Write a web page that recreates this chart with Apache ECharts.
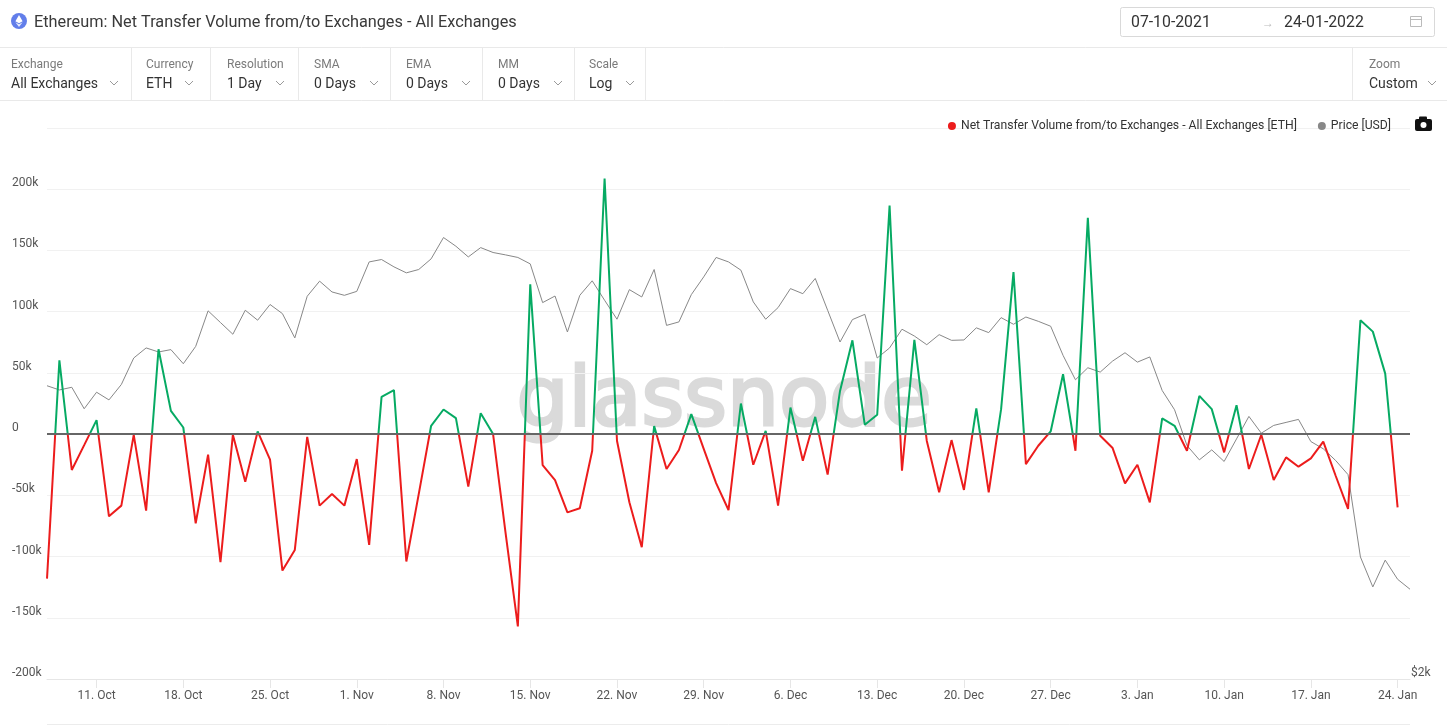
<!DOCTYPE html>
<html>
<head>
<meta charset="utf-8">
<title>Ethereum: Net Transfer Volume from/to Exchanges - All Exchanges</title>
<script src="https://cdn.jsdelivr.net/npm/echarts@6.0.0/dist/echarts.min.js"></script>
<style>
  html, body { margin: 0; padding: 0; background: #fff; }
  #chart { width: 1447px; height: 725px; }
</style>
</head>
<body>
<div id="chart"></div>
<script>
// days shown: 07 Oct 2021 .. 25 Jan 2022 (price runs one day longer than the flow)
const startDay = '2021-10-07';
const dayCount = 111;
const monthNames = ['Jan', 'Feb', 'Mar', 'Apr', 'May', 'Jun', 'Jul', 'Aug', 'Sep', 'Oct', 'Nov', 'Dec'];

// net transfer volume, ETH per day
const netFlow = [
  -118000, 60300, -29300, -9000, 11400, -67100, -58400, -600, -62500, 69300,
  19000, 5400, -72800, -16800, -104600, -600, -38900, 2200, -20900, -111400,
  -94600, -2200, -58400, -48900, -58400, -20400, -90500, 30400, 35900, -104000,
  -49000, 6800, 20100, 13000, -42900, 17100, 0, -80000, -157000, 122300,
  -25300, -37500, -63900, -60600, -13600, 208700, -5400, -55700, -92400, 6500,
  -28500, -13000, 16300, -12000, -40000, -62000, 25000, -25000, 2700, -58400,
  21700, -21700, 14100, -33100, 35300, 76600, 7600, 15800, 186700, -29900,
  76900, -5400, -47500, -4900, -45600, 20900, -47500, 20400, 132300, -24500,
  -9500, 2200, 48900, -13600, 176600, -1400, -11400, -40200, -25000, -55700,
  12800, 6800, -13600, 31200, 20400, -14900, 23600, -28500, -500, -37500,
  -19000, -26600, -19800, -6200, -34000, -61100, 92900, 83700, 49400, -59800
];

// ETH price, USD
const price = [
  3589, 3559, 3578, 3428, 3543, 3489, 3598, 3793, 3870, 3839,
  3857, 3750, 3882, 4167, 4071, 3977, 4172, 4090, 4220, 4144,
  3948, 4290, 4421, 4327, 4298, 4332, 4594, 4616, 4549, 4495,
  4525, 4622, 4823, 4740, 4640, 4727, 4681, 4659, 4635, 4576,
  4236, 4292, 3995, 4298, 4424, 4256, 4098, 4347, 4284, 4525,
  4048, 4076, 4304, 4459, 4635, 4594, 4519, 4242, 4098, 4194,
  4356, 4312, 4445, 4172, 3916, 4095, 4138, 3793, 3870, 4017,
  3963, 3895, 3974, 3929, 3932, 4028, 3990, 4111, 4057, 4116,
  4081, 4041, 3813, 3632, 3720, 3688, 3770, 3833, 3762, 3801,
  3555, 3421, 3186, 3096, 3158, 3086, 3228, 3376, 3265, 3316,
  3336, 3356, 3211, 3165, 3092, 3006, 2551, 2403, 2535, 2440,
  2392
];

const controlLabels = ['Exchange', 'Currency', 'Resolution', 'SMA', 'EMA', 'MM', 'Scale'];
const controlValues = ['All Exchanges', 'ETH', '1 Day', '0 Days', '0 Days', '0 Days', 'Log'];

const NET_NAME = 'Net Transfer Volume from/to Exchanges - All Exchanges [ETH]';
const PRICE_NAME = 'Price [USD]';
const FONT = 'Roboto, "Noto Sans", sans-serif';
const RED = '#ec1c1c';
const GREEN = '#06aa63';

function buildDays() {
  const out = [];
  const d0 = new Date(startDay + 'T00:00:00Z');
  for (let i = 0; i < dayCount; i++) {
    const d = new Date(d0.getTime() + i * 86400000);
    out.push(d.getUTCDate() + '. ' + monthNames[d.getUTCMonth()]);
  }
  return out;
}
const days = buildDays();

// weekly labels, first one on 11 Oct
function weekly(index) {
  return index >= 4 && (index - 4) % 7 === 0;
}

function text(x, y, str, size, color, extra) {
  return {
    type: 'text', x: x, y: y, silent: true,
    style: Object.assign({
      text: str, fontSize: size, fontFamily: FONT, fill: color, verticalAlign: 'middle'
    }, extra || {})
  };
}
function hline(x1, x2, y, color) {
  return { type: 'line', silent: true, shape: { x1: x1, y1: y, x2: x2, y2: y }, style: { stroke: color, lineWidth: 1 } };
}
function vline(x, y1, y2, color) {
  return { type: 'line', silent: true, shape: { x1: x, y1: y1, x2: x, y2: y2 }, style: { stroke: color, lineWidth: 1 } };
}
function chevron(x, y) {
  return {
    type: 'polyline', silent: true,
    shape: { points: [[x, y - 2], [x + 4, y + 2], [x + 8, y - 2]] },
    style: { stroke: '#9a9a9a', lineWidth: 1, fill: null }
  };
}

function header() {
  const g = [];
  // eth logo
  g.push({ type: 'circle', silent: true, shape: { cx: 19, cy: 21, r: 8 }, style: { fill: '#627eea' } });
  g.push({ type: 'polygon', silent: true, shape: { points: [[19, 15], [22.6, 21.2], [19, 23.2], [15.4, 21.2]] }, style: { fill: '#fff' } });
  g.push({ type: 'polygon', silent: true, shape: { points: [[15.4, 22.2], [19, 24.3], [22.6, 22.2], [19, 27]] }, style: { fill: 'rgba(255,255,255,0.85)' } });
  g.push(text(34, 23, 'Ethereum: Net Transfer Volume from/to Exchanges - All Exchanges', 16.3, '#3a3a3a'));

  // date range box
  g.push({ type: 'rect', silent: true, shape: { x: 1120.5, y: 7.5, width: 314, height: 29, r: 2 }, style: { fill: '#fff', stroke: '#d9d9d9', lineWidth: 1 } });
  g.push(text(1131, 23.5, '07-10-2021', 15.8, '#333'));
  g.push(text(1262, 23.5, '→', 12, '#bbb'));
  g.push(text(1284, 23.5, '24-01-2022', 15.8, '#333'));
  g.push({ type: 'rect', silent: true, shape: { x: 1410.5, y: 16.5, width: 11, height: 10 }, style: { fill: null, stroke: '#bbb', lineWidth: 1 } });
  g.push(hline(1410.5, 1421.5, 19.5, '#bbb'));

  // control bar
  g.push(hline(0, 1447, 47.5, '#e9e9e9'));
  g.push(hline(0, 1447, 100.5, '#e9e9e9'));
  const xs = [11, 146, 227, 314, 406, 498, 589];
  const chev = [110, 185, 276, 370, 462, 554, 626];
  const seps = [131, 210, 298, 390, 482, 574, 645];
  for (let i = 0; i < controlLabels.length; i++) {
    g.push(text(xs[i], 64.5, controlLabels[i], 12, '#7a7a7a'));
    g.push(text(xs[i], 84.5, controlValues[i], 14, '#333'));
    g.push(chevron(chev[i], 83));
    g.push(vline(seps[i] + 0.5, 47.5, 100.5, '#e9e9e9'));
  }
  g.push(vline(1352.5, 47.5, 100.5, '#e9e9e9'));
  g.push(text(1369, 64.5, 'Zoom', 12, '#7a7a7a'));
  g.push(text(1369, 84.5, 'Custom', 14, '#333'));
  g.push(chevron(1428, 83));

  // camera icon next to legend
  g.push({ type: 'rect', silent: true, shape: { x: 1415, y: 119, width: 17, height: 12, r: 2 }, style: { fill: '#111' } });
  g.push({ type: 'rect', silent: true, shape: { x: 1419, y: 116.5, width: 8, height: 4, r: 1 }, style: { fill: '#111' } });
  g.push({ type: 'circle', silent: true, shape: { cx: 1423.5, cy: 125, r: 3 }, style: { fill: '#fff' } });

  // watermark
  g.push({
    type: 'text', x: 724, y: 404, silent: true, z: -1,
    style: {
      text: 'glassnode', fontSize: 82, fontFamily: '"DejaVu Sans", sans-serif',
      fill: '#dadada', stroke: '#dadada', lineWidth: 3, align: 'center', verticalAlign: 'middle'
    }
  });
  g.push(hline(47, 1410, 724.5, '#ececec'));
  return g;
}

const chart = echarts.init(document.getElementById('chart'), null, { renderer: 'canvas' });
chart.setOption({
  animation: false,
  backgroundColor: '#fff',
  textStyle: { fontFamily: FONT },
  graphic: header(),
  legend: {
    right: 51, top: 115,
    icon: 'circle', itemWidth: 8, itemHeight: 8, itemGap: 21,
    textStyle: { fontSize: 12.2, color: '#333', fontFamily: FONT },
    data: [
      { name: NET_NAME, itemStyle: { color: RED } },
      { name: PRICE_NAME, itemStyle: { color: '#888' } }
    ]
  },
  grid: { left: 47, right: 37, top: 128, bottom: 46, containLabel: false },
  visualMap: {
    show: false, seriesIndex: 0, dimension: 1,
    pieces: [
      { gt: 0, lte: 250000, color: GREEN },
      { gte: -200000, lte: 0, color: RED }
    ],
    outOfRange: { color: RED }
  },
  xAxis: {
    type: 'category', data: days, boundaryGap: false,
    axisLine: { onZero: false, lineStyle: { color: '#e6e6e6' } },
    axisTick: { interval: weekly, length: 9, lineStyle: { color: '#e6e6e6' } },
    axisLabel: { interval: weekly, color: '#555', fontSize: 12, margin: 11, fontFamily: FONT }
  },
  yAxis: [
    {
      type: 'value', min: -200000, max: 250000, interval: 50000,
      axisLine: { show: false }, axisTick: { show: false },
      splitLine: { lineStyle: { color: '#f1f1f1' } },
      axisLabel: {
        align: 'left', margin: 35, verticalAlign: 'bottom', color: '#555', fontSize: 12, fontFamily: FONT,
        formatter: v => v === 250000 ? '' : (v === 0 ? '0' : v / 1000 + 'k')
      }
    },
    {
      type: 'log', min: 2000, max: 6000, position: 'right',
      axisLine: { show: false }, axisTick: { show: false }, splitLine: { show: false },
      axisLabel: {
        align: 'left', margin: 1, verticalAlign: 'bottom', color: '#555', fontSize: 12, fontFamily: FONT,
        formatter: v => Math.round(v) === 2000 ? '$2k' : ''
      }
    }
  ],
  series: [
    {
      name: NET_NAME, type: 'line', data: netFlow, symbol: 'none', z: 4,
      itemStyle: { color: RED }, lineStyle: { width: 2 },
      markLine: {
        silent: true, symbol: 'none', label: { show: false },
        lineStyle: { color: '#666', width: 2, type: 'solid' },
        data: [{ yAxis: 0 }]
      }
    },
    {
      name: PRICE_NAME, type: 'line', yAxisIndex: 1, data: price, symbol: 'none', z: 3,
      itemStyle: { color: '#888' }, lineStyle: { width: 1, color: '#888' }
    }
  ]
});
</script>
</body>
</html>
